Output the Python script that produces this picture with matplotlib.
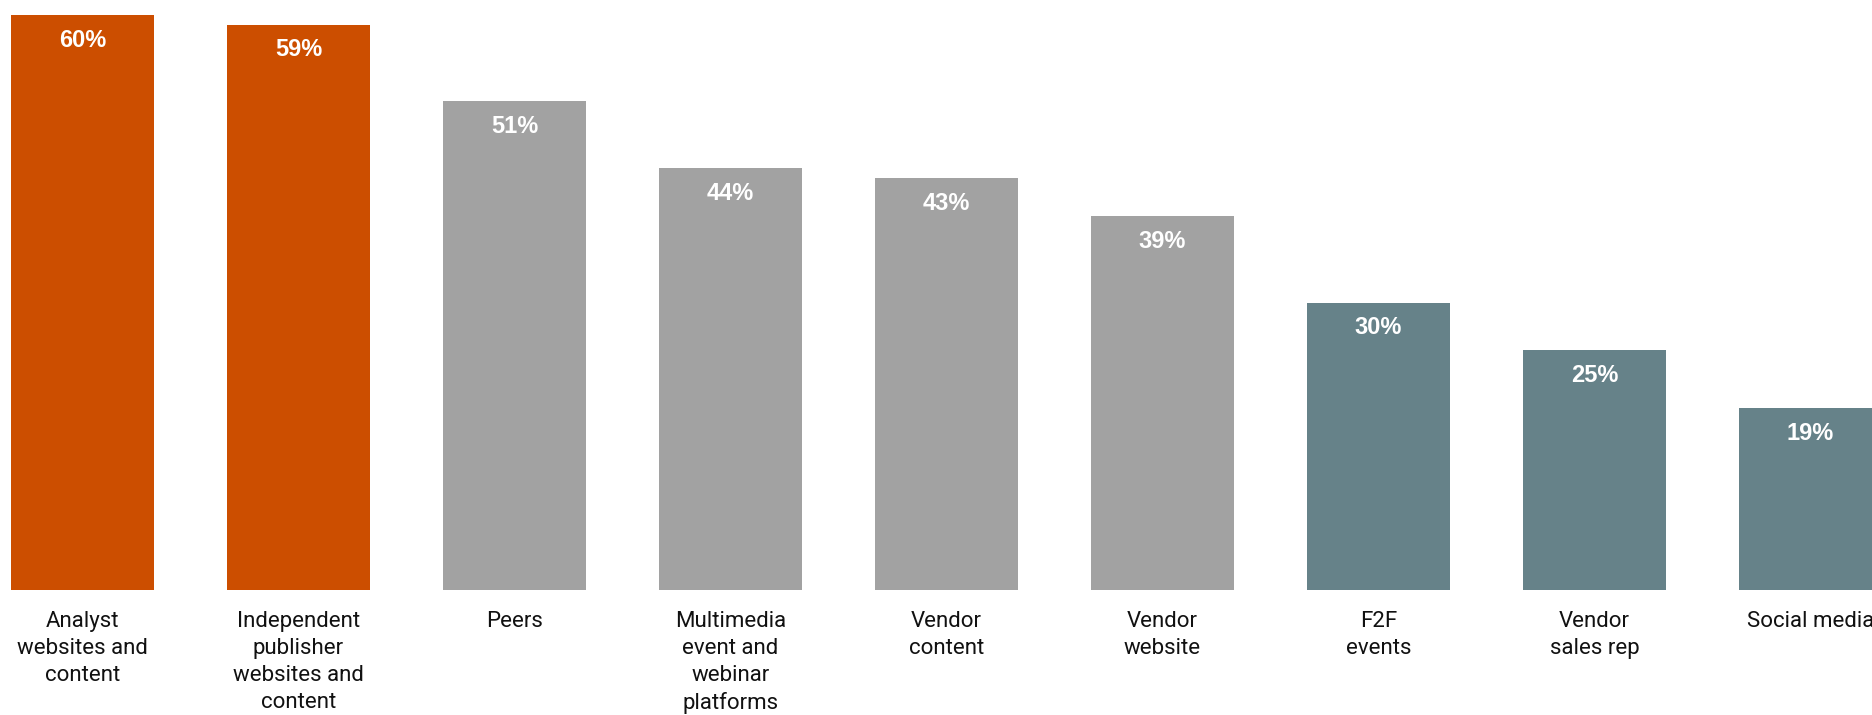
import matplotlib.pyplot as plt

# values
categories = ['Analyst\nwebsites and\ncontent', 'Independent\npublisher\nwebsites and\ncontent', 'Peers',
              'Multimedia\nevent and\nwebinar\nplatforms', 'Vendor\ncontent', 'Vendor\nwebsite',
              'F2F\nevents', 'Vendor\nsales rep', 'Social media']
values = [60, 59, 51, 44, 43, 39, 30, 25, 19]
groups = ['top', 'top', 'mid', 'mid', 'mid', 'mid', 'low', 'low', 'low']

colors = {'top': '#CC4E00', 'mid': '#A2A2A2', 'low': '#668289'}

fig = plt.figure(figsize=(18.72, 7.15), dpi=100)
# axes spans the whole width, the last bar runs past the edge as in the reference
ax = fig.add_axes([0, 125 / 715, 1, 590 / 715])

x = list(range(len(values)))
bars = ax.bar(x, values, width=143 / 216, color=[colors[g] for g in groups])

for b, v in zip(bars, values):
    ax.annotate('%d%%' % v, (b.get_x() + b.get_width() / 2, v), xytext=(0, -10),
                textcoords='offset points', ha='center', va='top', color='white',
                fontsize=17, fontweight='bold', family='Liberation Sans')

ax.set_xlim(-82.5 / 216, (1872 - 82.5) / 216)
ax.set_ylim(0, 590 / (575 / 60))
ax.set_xticks(x)
ax.set_xticklabels(categories, fontsize=16, family='Roboto', color='#111111')
for lab in ax.get_xticklabels():
    lab.set_linespacing(1.37)
ax.tick_params(axis='x', length=0, pad=15)
ax.set_yticks([])
for s in ax.spines.values():
    s.set_visible(False)

fig.savefig('out.png', dpi=100)
